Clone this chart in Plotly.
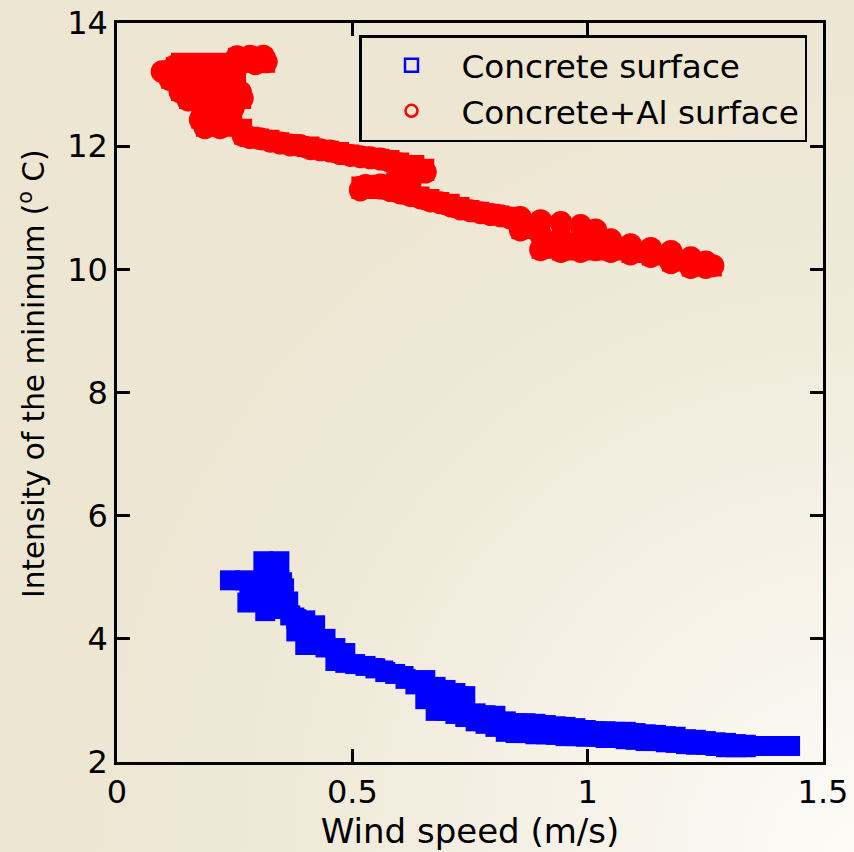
import base64
import plotly.graph_objects as go

# ---- data ----
concrete_x = [0.240, 0.272, 0.311, 0.345, 0.311, 0.345, 0.355, 0.277, 0.315, 0.347, 0.368,
              0.381, 0.381, 0.400, 0.400, 0.421, 0.421, 0.443, 0.443, 0.464, 0.464, 0.485, 0.485,
              0.506, 0.528, 0.549, 0.570, 0.591, 0.613, 0.634, 0.655, 0.655, 0.677, 0.677,
              0.698, 0.698, 0.719, 0.719, 0.740, 0.740, 0.762, 0.762, 0.783, 0.783, 0.804, 0.804,
              0.826, 0.826, 0.847, 0.847, 0.868, 0.868, 0.889, 0.889, 0.911, 0.911, 0.932, 0.932,
              0.953, 0.953, 0.974, 0.974, 0.996, 0.996, 1.017, 1.017, 1.038, 1.038, 1.060, 1.060,
              1.081, 1.081, 1.102, 1.102, 1.123, 1.123, 1.145, 1.145, 1.166, 1.166, 1.187, 1.187,
              1.209, 1.209, 1.230, 1.230, 1.251, 1.251, 1.272, 1.272, 1.294, 1.294, 1.315, 1.315,
              1.336, 1.336, 1.357, 1.379, 1.400, 1.430]
concrete_y = [4.95, 4.95, 5.26, 5.26, 4.95, 4.95, 4.82, 4.59, 4.45, 4.64, 4.38,
              4.32, 4.12, 4.30, 3.90, 4.22, 3.90, 4.00, 3.86, 3.85, 3.64, 3.77, 3.61,
              3.59, 3.56, 3.52, 3.46, 3.43, 3.35, 3.26, 3.33, 3.02, 3.22, 2.83,
              3.17, 2.83, 3.12, 2.78, 3.07, 2.73, 2.79, 2.66, 2.76, 2.62, 2.75, 2.57,
              2.66, 2.49, 2.63, 2.47, 2.63, 2.47, 2.62, 2.45, 2.60, 2.45, 2.58, 2.44,
              2.57, 2.42, 2.55, 2.42, 2.52, 2.41, 2.50, 2.41, 2.50, 2.39, 2.49, 2.39,
              2.49, 2.37, 2.47, 2.36, 2.45, 2.34, 2.44, 2.34, 2.42, 2.32, 2.41, 2.31,
              2.37, 2.29, 2.36, 2.28, 2.34, 2.28, 2.32, 2.26, 2.31, 2.24, 2.29, 2.24,
              2.28, 2.24, 2.26, 2.26, 2.26, 2.26]

al_x = [0.096, 0.123, 0.155, 0.187, 0.219, 0.113, 0.145, 0.177, 0.209,
        0.255, 0.283, 0.311, 0.262, 0.294, 0.317,
        0.134, 0.166, 0.198, 0.230, 0.262, 0.151, 0.177, 0.209, 0.245, 0.266,
        0.177, 0.209, 0.240, 0.247, 0.187, 0.219,
        0.268, 0.283, 0.304, 0.326, 0.347, 0.368, 0.389, 0.411, 0.432, 0.453, 0.474,
        0.496, 0.517, 0.538, 0.560, 0.581, 0.602, 0.634, 0.655,
        0.623, 0.591, 0.560, 0.528, 0.517,
        0.538, 0.560, 0.581, 0.602, 0.623, 0.645, 0.666, 0.687, 0.709, 0.730, 0.751,
        0.772, 0.794, 0.815, 0.836,
        0.857, 0.857, 0.900, 0.900, 0.900, 0.943, 0.943, 0.943, 0.985, 0.985, 0.985,
        1.017, 1.017, 1.049, 1.049, 1.091, 1.091, 1.134, 1.134, 1.177, 1.177,
        1.219, 1.219, 1.251, 1.251, 1.266]
al_y = [13.21, 13.30, 13.30, 13.27, 13.24, 13.08, 13.11, 13.08, 13.04,
        13.45, 13.46, 13.46, 13.34, 13.34, 13.37,
        12.88, 12.88, 12.88, 12.88, 12.88, 12.75, 12.69, 12.72, 12.75, 12.78,
        12.43, 12.43, 12.46, 12.62, 12.30, 12.30,
        12.17, 12.14, 12.12, 12.08, 12.05, 12.02, 12.01, 11.96, 11.94, 11.92, 11.88,
        11.85, 11.83, 11.81, 11.79, 11.75, 11.71, 11.65, 11.58,
        11.42, 11.39, 11.37, 11.36, 11.29,
        11.34, 11.32, 11.28, 11.24, 11.20, 11.16, 11.11, 11.08, 11.03, 10.98, 10.95,
        10.92, 10.89, 10.87, 10.83,
        10.84, 10.64, 10.79, 10.56, 10.32, 10.76, 10.51, 10.29, 10.71, 10.48, 10.29,
        10.64, 10.32, 10.48, 10.29, 10.40, 10.25, 10.34, 10.21, 10.29, 10.11,
        10.19, 10.03, 10.12, 10.03, 10.06]

series_names = ["Concrete surface", "Concrete+Al surface"]
x_ticks = [0, 0.5, 1, 1.5]
y_ticks = [2, 4, 6, 8, 10, 12, 14]
x_title = "Wind speed (m/s)"
y_title = "Intensity of the minimum (<sup>o</sup> C)"

# ---- styling ----
W, H = 854, 852
ML, MR, MT, MB = 117, 31, 23, 90
PW, PH = W - ML - MR, H - MT - MB
FONT = "DejaVu Sans"
FS = 32

svg = f'''<svg xmlns="http://www.w3.org/2000/svg" width="{W}" height="{H}">
<defs><radialGradient id="g" cx="{W}" cy="{H}" r="820" gradientUnits="userSpaceOnUse">
<stop offset="0" stop-color="#fcfbf7"/><stop offset="0.35" stop-color="#f6f2e7"/>
<stop offset="0.7" stop-color="#efe9d8"/><stop offset="1" stop-color="#ede6d2"/></radialGradient></defs>
<rect width="{W}" height="{H}" fill="url(#g)"/></svg>'''
bg_src = "data:image/svg+xml;base64," + base64.b64encode(svg.encode()).decode()

fig = go.Figure()
fig.add_trace(go.Scatter(x=concrete_x, y=concrete_y, mode="lines+markers", showlegend=False,
                         line=dict(color="#0000ff", width=16, shape="hv"),
                         marker=dict(symbol="square", size=20, color="#0000ff", line=dict(width=0))))
fig.add_trace(go.Scatter(x=al_x, y=al_y, mode="lines+markers", showlegend=False,
                         line=dict(color="#ff0000", width=18, shape="hv"),
                         marker=dict(symbol="circle", size=23, color="#ff0000", line=dict(width=0))))
# legend entries (hollow markers as in the reference)
fig.add_trace(go.Scatter(x=[None], y=[None], mode="markers", name=series_names[0], legendgroup="a",
                         marker=dict(symbol="square-open", size=13, color="#0000ff", line=dict(width=2.5))))
fig.add_trace(go.Scatter(x=[None], y=[None], mode="markers", name=series_names[1], legendgroup="b",
                         marker=dict(symbol="circle-open", size=12, color="#ff0000", line=dict(width=2.5))))

axis_common = dict(showgrid=False, zeroline=False, showline=True, linecolor="black", linewidth=2.5,
                   mirror="ticks", ticks="inside", ticklen=13, tickwidth=2.5, tickcolor="black",
                   automargin=False, tickfont=dict(family=FONT, size=FS, color="black"))

fig.update_layout(
    width=W, height=H,
    margin=dict(l=ML, r=MR, t=MT, b=MB, pad=0, autoexpand=False),
    paper_bgcolor="#efe9d7", plot_bgcolor="rgba(0,0,0,0)",
    font=dict(family=FONT, size=FS, color="black"),
    images=[dict(source=bg_src, xref="paper", yref="paper", x=-ML / PW, y=1 + MT / PH,
                 sizex=W / PW, sizey=H / PH, xanchor="left", yanchor="top",
                 sizing="stretch", layer="below")],
    xaxis=dict(range=[0, 1.5], tickvals=x_ticks, ticktext=[f"{v:g}" for v in x_ticks],
               title=dict(text=x_title, font=dict(family=FONT, size=34), standoff=6),
               **axis_common),
    yaxis=dict(range=[2, 14], tickvals=y_ticks, ticktext=[f"{v:g}" for v in y_ticks],
               **axis_common),
    annotations=[dict(text=y_title, textangle=-90, xref="paper", yref="paper",
                      x=(32 - ML) / PW, y=1 - (374 - MT) / PH, xanchor="center", yanchor="middle",
                      showarrow=False, font=dict(family=FONT, size=29.5, color="black"))],
    legend=dict(x=(807 - ML) / PW, y=1 - (35 - MT) / PH, xanchor="right", yanchor="top",
                bgcolor="rgba(0,0,0,0)", bordercolor="black", borderwidth=2.5,
                font=dict(family=FONT, size=32.7, color="black"),
                tracegroupgap=0, itemwidth=90),
)

fig.write_html("out.html")
